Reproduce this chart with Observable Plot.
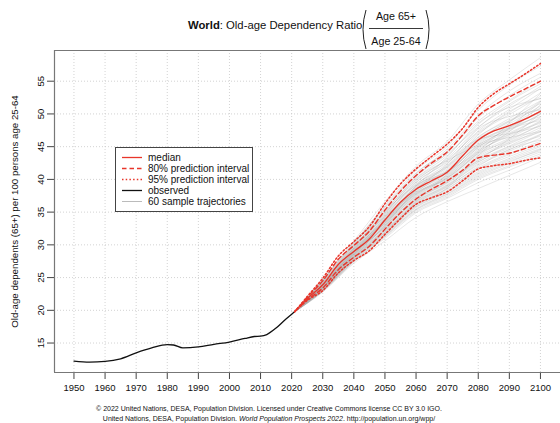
<!DOCTYPE html>
<html>
<head>
<meta charset="utf-8">
<script src="https://cdn.jsdelivr.net/npm/d3@7"></script>
<script src="https://cdn.jsdelivr.net/npm/@observablehq/plot@0.6"></script>
<style>
  body { margin: 0; background: #fff; }
  #wrap { position: relative; width: 560px; height: 423px; font-family: "Liberation Sans", Arial, Helvetica, sans-serif; color: #111; overflow: hidden; }
  #chart { position: absolute; left: 0; top: 0; }
  .abs { position: absolute; white-space: nowrap; }
  #legend { position: absolute; left: 115px; top: 147px; width: 136px; height: 63px; border: 1px solid #444; background: #fff; overflow: hidden; font-size: 10px; }
  #legend .row { position: absolute; left: 0; height: 11px; line-height: 11px; }
  #legend svg { position: absolute; left: 6px; top: 0; }
  #legend span { position: absolute; left: 32px; top: 0; white-space: nowrap; }
  #caption { position: absolute; left: 0; width: 538px; top: 404px; text-align: center; font-size: 7px; line-height: 9.8px; }
</style>
</head>
<body>
<div id="wrap">
  <div id="chart"></div>
  <div class="abs" style="left:188px; top:19px; font-size:11.3px;"><b>World</b>: Old-age Dependency Ratio</div>
  <div class="abs" style="left:367px; width:58px; top:10px; text-align:center; font-size:10.7px;">Age 65+</div>
  <div class="abs" style="left:367px; width:58px; top:35px; text-align:center; font-size:10.7px;">Age 25-64</div>
  <svg class="abs" style="left:0; top:0;" width="560" height="52">
    <line x1="369" x2="423" y1="28.5" y2="28.5" stroke="#222" stroke-width="0.9"/>
    <path d="M366,10 Q360,29.5 366,49" fill="none" stroke="#222" stroke-width="1"/>
    <path d="M426,10 Q432,29.5 426,49" fill="none" stroke="#222" stroke-width="1"/>
  </svg>
  <div id="legend"></div>
  <div id="caption">© 2022 United Nations, DESA, Population Division. Licensed under Creative Commons license CC BY 3.0 IGO.<br>United Nations, DESA, Population Division. <i>World Population Prospects 2022</i>. http://population.un.org/wpp/</div>
</div>
<script>
// ---------- data ----------
const obsYears  = [1950, 1955, 1960, 1965, 1970, 1975, 1980, 1982, 1985, 1990, 1995, 2000, 2005, 2008, 2010, 2012, 2015, 2018, 2020, 2021];
const obsValues = [12.25, 12.1, 12.2, 12.6, 13.5, 14.25, 14.75, 14.7, 14.25, 14.4, 14.8, 15.15, 15.7, 16.0, 16.05, 16.3, 17.3, 18.6, 19.4, 19.8];

const projYears = [2021, 2025, 2030, 2035, 2040, 2045, 2050, 2055, 2060, 2065, 2070, 2075, 2080, 2085, 2090, 2095, 2100];
const median = [19.8, 21.8, 23.9, 27.0, 29.0, 30.9, 33.8, 36.5, 38.5, 39.8, 41.1, 43.6, 46.0, 47.4, 48.2, 49.2, 50.4];
const up80   = [19.8, 22.0, 24.5, 27.8, 29.9, 32.1, 35.3, 38.2, 40.6, 42.5, 44.2, 46.8, 49.7, 51.3, 52.6, 53.8, 55.0];
const lo80   = [19.8, 21.6, 23.4, 26.2, 28.1, 29.8, 32.4, 34.9, 37.0, 38.5, 39.8, 41.4, 43.3, 43.7, 44.0, 44.7, 45.5];
const up95   = [19.8, 22.1, 24.9, 28.3, 30.5, 32.8, 36.3, 39.3, 41.6, 43.5, 45.4, 47.8, 51.0, 53.1, 54.6, 56.1, 57.7];
const lo95   = [19.8, 21.5, 23.0, 25.7, 27.6, 29.1, 31.6, 34.0, 36.2, 37.2, 38.1, 39.8, 41.6, 42.1, 42.4, 42.9, 43.3];

const sampleYears = [2021, 2030, 2040, 2050, 2060, 2070, 2080, 2090, 2100];
const sampleTrajectories = [
  [19.8, 24.8, 30.6, 36.6, 42.0, 45.8, 51.5, 55.2, 58.6],
  [19.8, 24.6, 30.3, 36.0, 41.4, 45.0, 50.6, 54.4, 57.3],
  [19.8, 24.7, 30.4, 35.7, 40.9, 44.6, 49.8, 53.5, 56.2],
  [19.8, 24.5, 30.1, 35.5, 40.6, 44.0, 49.4, 52.8, 55.6],
  [19.8, 24.4, 30.0, 35.8, 41.0, 44.3, 48.9, 52.1, 55.0],
  [19.8, 24.6, 30.2, 35.2, 40.2, 43.6, 48.4, 51.9, 54.6],
  [19.8, 24.3, 29.8, 35.0, 40.4, 43.9, 48.0, 51.2, 54.2],
  [19.8, 24.2, 29.9, 34.9, 39.8, 43.2, 47.9, 51.5, 53.8],
  [19.8, 24.4, 29.6, 34.6, 39.6, 42.8, 47.4, 50.7, 53.9],
  [19.8, 24.1, 29.7, 34.8, 39.9, 43.0, 47.2, 50.2, 53.2],
  [19.8, 24.2, 29.5, 34.4, 39.2, 42.4, 47.0, 49.9, 52.7],
  [19.8, 24.0, 29.4, 34.2, 39.0, 42.1, 46.8, 50.4, 52.4],
  [19.8, 24.1, 29.3, 34.5, 39.3, 42.0, 46.4, 49.3, 52.0],
  [19.8, 23.9, 29.2, 34.0, 38.9, 41.9, 46.5, 49.0, 51.6],
  [19.8, 24.0, 29.3, 33.9, 38.6, 41.6, 46.2, 48.8, 51.9],
  [19.8, 23.9, 29.1, 34.1, 38.8, 41.8, 46.0, 48.5, 51.2],
  [19.8, 24.0, 29.0, 33.7, 38.5, 41.4, 45.9, 48.9, 50.8],
  [19.8, 23.8, 29.2, 33.8, 38.7, 41.3, 45.6, 48.2, 50.9],
  [19.8, 23.9, 29.0, 33.6, 38.3, 41.2, 45.8, 47.9, 50.5],
  [19.8, 23.8, 28.9, 33.5, 38.4, 41.0, 45.4, 48.0, 50.2],
  [19.8, 23.9, 28.8, 33.8, 38.2, 40.9, 45.2, 47.6, 49.9],
  [19.8, 23.7, 29.1, 33.4, 38.0, 41.1, 45.0, 47.4, 50.0],
  [19.8, 23.8, 28.9, 33.3, 38.1, 40.7, 44.9, 47.8, 49.6],
  [19.8, 23.7, 28.7, 33.6, 37.9, 40.5, 44.6, 47.1, 49.3],
  [19.8, 23.8, 28.8, 33.2, 37.8, 40.6, 44.8, 46.9, 49.5],
  [19.8, 23.6, 28.6, 33.4, 37.7, 40.3, 44.4, 46.6, 48.9],
  [19.8, 23.7, 28.9, 33.1, 37.6, 40.4, 44.2, 46.8, 48.6],
  [19.8, 23.6, 28.7, 33.0, 37.5, 40.1, 44.0, 46.3, 48.8],
  [19.8, 23.5, 28.5, 33.3, 37.4, 40.2, 43.7, 46.1, 48.2],
  [19.8, 23.6, 28.6, 32.9, 37.3, 39.9, 43.9, 45.9, 48.4],
  [19.8, 23.5, 28.4, 32.8, 37.2, 39.8, 43.5, 45.7, 47.9],
  [19.8, 23.6, 28.6, 32.7, 37.0, 39.6, 43.3, 45.4, 47.6],
  [19.8, 23.4, 28.3, 32.9, 37.1, 39.7, 43.1, 45.6, 47.2],
  [19.8, 23.5, 28.5, 32.6, 36.9, 39.4, 42.9, 45.1, 47.4],
  [19.8, 23.4, 28.2, 32.5, 36.8, 39.5, 42.7, 44.8, 46.9],
  [19.8, 23.3, 28.4, 32.7, 36.7, 39.2, 42.6, 45.0, 46.6],
  [19.8, 23.4, 28.1, 32.4, 36.6, 39.0, 42.4, 44.5, 46.8],
  [19.8, 23.3, 28.3, 32.3, 36.5, 39.1, 42.2, 44.3, 46.3],
  [19.8, 23.2, 28.0, 32.2, 36.4, 38.8, 42.0, 44.6, 46.0],
  [19.8, 23.3, 28.2, 32.1, 36.3, 38.9, 41.8, 44.0, 45.8],
  [19.8, 23.2, 27.9, 32.0, 36.2, 38.6, 41.6, 43.8, 45.5],
  [19.8, 23.1, 28.0, 31.9, 36.0, 38.5, 41.5, 43.5, 45.2],
  [19.8, 23.2, 27.8, 31.8, 36.1, 38.3, 41.2, 43.2, 45.0],
  [19.8, 23.1, 27.7, 31.7, 35.8, 38.1, 41.0, 43.0, 44.7],
  [19.8, 23.0, 27.8, 31.6, 35.7, 38.0, 40.8, 42.8, 44.4],
  [19.8, 23.1, 27.6, 31.5, 35.5, 37.8, 40.6, 42.6, 44.6],
  [19.8, 23.0, 27.7, 31.4, 35.4, 37.7, 40.4, 42.4, 44.2],
  [19.8, 22.9, 27.5, 31.3, 35.3, 37.5, 40.2, 42.1, 43.9],
  [19.8, 23.0, 27.4, 31.2, 35.1, 37.3, 40.0, 41.9, 43.6],
  [19.8, 22.9, 27.5, 31.0, 34.9, 37.1, 39.5, 41.4, 43.4],
  [19.8, 22.8, 27.2, 30.6, 34.2, 36.6, 38.6, 40.6, 42.6],
  [19.8, 24.3, 29.4, 33.6, 37.8, 40.2, 44.1, 47.3, 51.4],
  [19.8, 23.5, 28.8, 34.3, 39.5, 42.6, 46.1, 47.0, 48.1],
  [19.8, 23.8, 29.6, 35.1, 39.1, 41.2, 44.3, 48.6, 53.1],
  [19.8, 23.3, 28.1, 33.0, 38.4, 42.3, 47.7, 49.6, 50.6],
  [19.8, 24.5, 29.9, 34.3, 38.0, 40.0, 42.9, 46.2, 50.1],
  [19.8, 23.1, 28.4, 33.9, 39.0, 43.4, 48.6, 51.0, 52.3],
  [19.8, 23.6, 28.1, 31.9, 36.6, 40.8, 45.1, 46.4, 47.3],
  [19.8, 24.1, 29.5, 34.7, 40.1, 42.9, 45.3, 47.7, 49.0],
  [19.8, 23.4, 27.9, 32.2, 35.9, 38.7, 43.6, 47.9, 51.8]
];

const xTicks = [1950, 1960, 1970, 1980, 1990, 2000, 2010, 2020, 2030, 2040, 2050, 2060, 2070, 2080, 2090, 2100];
const yTicks = [15, 20, 25, 30, 35, 40, 45, 50, 55];
const yLabel = "Old-age dependents (65+) per 100 persons age 25-64";

const legendItems = ["median", "80% prediction interval", "95% prediction interval", "observed", "60 sample trajectories"];

// ---------- tables ----------
const observed = obsYears.map((y, i) => ({year: y, value: obsValues[i]}));
const band = (arr) => projYears.map((y, i) => ({year: y, value: arr[i]}));
const samples = sampleTrajectories.flatMap((t, k) => t.map((v, i) => ({id: k, year: sampleYears[i], value: v})));

const RED = "#e8352a";
const xDomain = [1943.74, 2106.45];
const yDomain = [10.5, 59.69];

const chart = Plot.plot({
  width: 560,
  height: 423,
  marginTop: 50,
  marginLeft: 54,
  marginRight: 0,
  marginBottom: 51,
  x: {domain: xDomain, label: null},
  y: {domain: yDomain, label: null},
  style: {fontFamily: '"Liberation Sans", Arial, Helvetica, sans-serif', fontSize: "9.5px", background: "transparent", color: "#111"},
  marks: [
    Plot.gridX(xTicks, {stroke: "#c8c8c8", strokeOpacity: 1, strokeDasharray: "1,2", strokeWidth: 0.8}),
    Plot.gridY(yTicks, {stroke: "#c8c8c8", strokeOpacity: 1, strokeDasharray: "1,2", strokeWidth: 0.8}),
    Plot.line(samples, {x: "year", y: "value", z: "id", stroke: "#a8a8a8", strokeOpacity: 0.4, strokeWidth: 0.7, curve: "monotone-x"}),
    Plot.line(observed, {x: "year", y: "value", stroke: "#111", strokeWidth: 1.3, curve: "monotone-x"}),
    Plot.line(band(lo95), {x: "year", y: "value", stroke: RED, strokeWidth: 1.5, strokeDasharray: "1.5,2.2", curve: "monotone-x"}),
    Plot.line(band(up95), {x: "year", y: "value", stroke: RED, strokeWidth: 1.5, strokeDasharray: "1.5,2.2", curve: "monotone-x"}),
    Plot.line(band(lo80), {x: "year", y: "value", stroke: RED, strokeWidth: 1.4, strokeDasharray: "4.5,3", curve: "monotone-x"}),
    Plot.line(band(up80), {x: "year", y: "value", stroke: RED, strokeWidth: 1.4, strokeDasharray: "4.5,3", curve: "monotone-x"}),
    Plot.line(band(median), {x: "year", y: "value", stroke: RED, strokeWidth: 1.3, curve: "monotone-x"}),
    Plot.axisX(xTicks, {tickSize: 7, tickPadding: 5, stroke: "#444", fill: "#111", fontSize: 9.5, tickFormat: d => String(d), label: null}),
    Plot.axisY(yTicks, {tickSize: 7, stroke: "#444", text: null, label: null}),
    Plot.text(yTicks, {y: d => d, frameAnchor: "left", dx: -14, rotate: -90, text: d => String(d), textAnchor: "middle", lineAnchor: "middle", fontSize: 9.5, fill: "#111"}),
    Plot.text([yLabel], {frameAnchor: "left", dx: -40, rotate: -90, text: d => d, textAnchor: "middle", lineAnchor: "middle", fontSize: 9.7, fill: "#111"}),
    Plot.ruleX([xDomain[0]], {stroke: "#777", strokeWidth: 1.2}),
    Plot.ruleY([yDomain[0]], {stroke: "#777", strokeWidth: 1.2}),
    Plot.ruleY([yDomain[1]], {stroke: "#777", strokeWidth: 1.2})
  ]
});
document.getElementById("chart").appendChild(chart);

// ---------- legend ----------
const styles = [
  {stroke: RED, dash: "", w: 1.3},
  {stroke: RED, dash: "4.5,3", w: 1.4},
  {stroke: RED, dash: "1.5,2.2", w: 1.5},
  {stroke: "#111", dash: "", w: 1.3},
  {stroke: "#bbb", dash: "", w: 1}
];
const leg = document.getElementById("legend");
legendItems.forEach((label, i) => {
  const row = document.createElement("div");
  row.className = "row";
  row.style.top = (4 + i * 10.9) + "px";
  row.style.width = "200px";
  const s = styles[i];
  row.innerHTML = `<svg width="22" height="11"><line x1="0" x2="20" y1="5.5" y2="5.5" stroke="${s.stroke}" stroke-width="${s.w}" ${s.dash ? `stroke-dasharray="${s.dash}"` : ""}/></svg><span>${label}</span>`;
  leg.appendChild(row);
});
</script>
</body>
</html>
